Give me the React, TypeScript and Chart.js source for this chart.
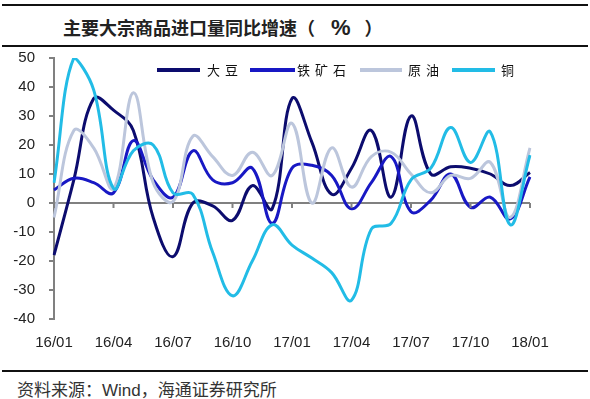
import { useEffect, useRef } from 'react';
import { Chart, registerables } from 'chart.js';

Chart.register(...registerables);

const months = [
  '16/01', '16/02', '16/03', '16/04', '16/05', '16/06', '16/07', '16/08', '16/09', '16/10', '16/11', '16/12',
  '17/01', '17/02', '17/03', '17/04', '17/05', '17/06', '17/07', '17/08', '17/09', '17/10', '17/11', '17/12',
  '18/01',
];

const soybean = [-18, 8, 36, 32, 25, -5, -18.5, 0, -1, -6, 6, -2, 36, 21, 3, 12, 25, 2, 30, 10, 12.5, 12, 10, 6, 10.5];
const ironOre = [4.5, 8.5, 7, 3.5, 21.5, 8, 2, 18, 8, 7, 12, -7, 12, 13, 9.5, -2, 7, 16, -3, 1, 10, -1.5, 2, -5.5, 9];
const crudeOil = [-5, 25, 19, 5, 38, 7, 0.5, 23, 16, 9.5, 17.5, 9.5, 27.5, 0, 19, 5.5, 16, 17.5, 10, 3.5, 9.5, 8.5, 14, -5, 19];
const copper = [7, 50, 39, 5, 18, 20, 3.5, 3, -17, -32, -20, -7.5, -14.5, -19, -24, -33.5, -9, -7, 8, 12, 26, 14, 24.5, -7.5, 16.5];

const seriesNames = ['大豆', '铁矿石', '原油', '铜'];
const seriesColors = ['#0c0c6e', '#1818c4', '#bcc6dc', '#22bce6'];

const yMin = -40;
const yMax = 50;
const yStep = 10;
const labelEvery = 3;

const legendPos = [
  { sx: 157, sw: 43, tx: 207 },
  { sx: 250, sw: 45, tx: 297 },
  { sx: 360, sw: 42, tx: 408 },
  { sx: 452, sw: 43, tx: 501 },
];

const axisTicksPlugin = {
  id: 'axisTicks',
  afterDatasetsDraw(chart: any) {
    const xs = chart.scales.x;
    const ys = chart.scales.y;
    const ctx = chart.ctx;
    const y0 = ys.getPixelForValue(0);
    ctx.save();
    ctx.strokeStyle = '#808080';
    ctx.lineWidth = 2;
    for (let i = 0; i < months.length; i += labelEvery) {
      const x = xs.getPixelForValue(i);
      ctx.beginPath();
      ctx.moveTo(x, y0);
      ctx.lineTo(x, y0 + 5);
      ctx.stroke();
    }
    ctx.restore();
  },
};

export default function App() {
  const ref = useRef<HTMLCanvasElement>(null);

  useEffect(() => {
    document.body.style.margin = '0';
    const all = [soybean, ironOre, crudeOil, copper];
    const datasets = all.map((d, i) => ({
      label: seriesNames[i],
      data: d,
      borderColor: seriesColors[i],
      backgroundColor: seriesColors[i],
      borderWidth: 3,
      pointRadius: 0,
      tension: 0.4,
      fill: false,
      order: 4 - i,
    }));
    const chart = new Chart(ref.current as HTMLCanvasElement, {
      type: 'line',
      data: { labels: months, datasets },
      options: {
        animation: false,
        responsive: false,
        layout: { padding: { top: 10, right: 60, left: 0, bottom: 0 } },
        plugins: { legend: { display: false }, tooltip: { enabled: false } },
        scales: {
          x: {
            offset: false,
            grid: { display: false, drawTicks: false },
            border: { display: false },
            ticks: {
              autoSkip: false,
              maxRotation: 0,
              padding: 15,
              color: '#222',
              font: { family: 'Liberation Sans, Arial, sans-serif', size: 15 },
              callback: (_v: any, i: number) => (i % labelEvery === 0 ? months[i] : ''),
            },
            afterFit: (s: any) => { s.height = 49; },
          },
          y: {
            min: yMin,
            max: yMax,
            grid: {
              color: (c: any) => (c.tick && c.tick.value === 0 ? '#808080' : 'rgba(0,0,0,0)'),
              lineWidth: 2,
              drawTicks: true,
              tickLength: 5,
              tickColor: '#808080',
              tickWidth: 2,
            },
            border: { display: true, color: '#808080', width: 2 },
            ticks: {
              stepSize: yStep,
              padding: 14,
              color: '#222',
              font: { family: 'Liberation Sans, Arial, sans-serif', size: 15 },
            },
            afterFit: (s: any) => {
              s.width = 54;
              s.paddingTop = 0;
              s.paddingBottom = 0;
            },
          },
        },
      },
      plugins: [axisTicksPlugin],
    });
    return () => chart.destroy();
  }, []);

  return (
    <div style={{ position: 'relative', width: 590, height: 399, background: '#fff', overflow: 'hidden' }}>
      <div style={{ position: 'absolute', left: 2, right: 2, top: 4, height: 2, background: '#111' }} />
      <div
        style={{
          position: 'absolute',
          left: 63,
          top: 13,
          fontFamily: '"Noto Sans CJK SC", sans-serif',
          fontWeight: 700,
          fontSize: 18,
          lineHeight: '28px',
          color: '#222',
          whiteSpace: 'nowrap',
        }}
      >
        主要大宗商品进口量同比增速（
        <span style={{ fontFamily: 'Liberation Sans, Arial, sans-serif', fontWeight: 700, margin: '0 14px 0 16px', fontSize: 22 }}>%</span>
        ）
      </div>
      <div style={{ position: 'absolute', left: 2, right: 2, top: 45, height: 2, background: '#111' }} />
      <canvas ref={ref} width={590} height={320} style={{ position: 'absolute', left: 0, top: 48 }} />
      {seriesNames.map((n, i) => (
        <div key={n}>
          <div
            style={{
              position: 'absolute',
              left: legendPos[i].sx,
              top: 68,
              width: legendPos[i].sw,
              height: 4,
              background: seriesColors[i],
            }}
          />
          <div
            style={{
              position: 'absolute',
              left: legendPos[i].tx,
              top: 61,
              fontFamily: '"Noto Sans CJK SC", sans-serif',
              fontSize: 13,
              lineHeight: '18px',
              letterSpacing: 5,
              color: '#111',
              whiteSpace: 'nowrap',
            }}
          >
            {n}
          </div>
        </div>
      ))}
      <div style={{ position: 'absolute', left: 2, right: 2, top: 370, height: 2, background: '#111' }} />
      <div
        style={{
          position: 'absolute',
          left: 17,
          top: 378,
          fontFamily: '"Noto Sans CJK SC", sans-serif',
          fontSize: 17,
          lineHeight: '22px',
          color: '#333',
          whiteSpace: 'nowrap',
        }}
      >
        资料来源：<span style={{ fontFamily: 'Liberation Sans, Arial, sans-serif' }}>Wind</span>，海通证券研究所
      </div>
    </div>
  );
}
